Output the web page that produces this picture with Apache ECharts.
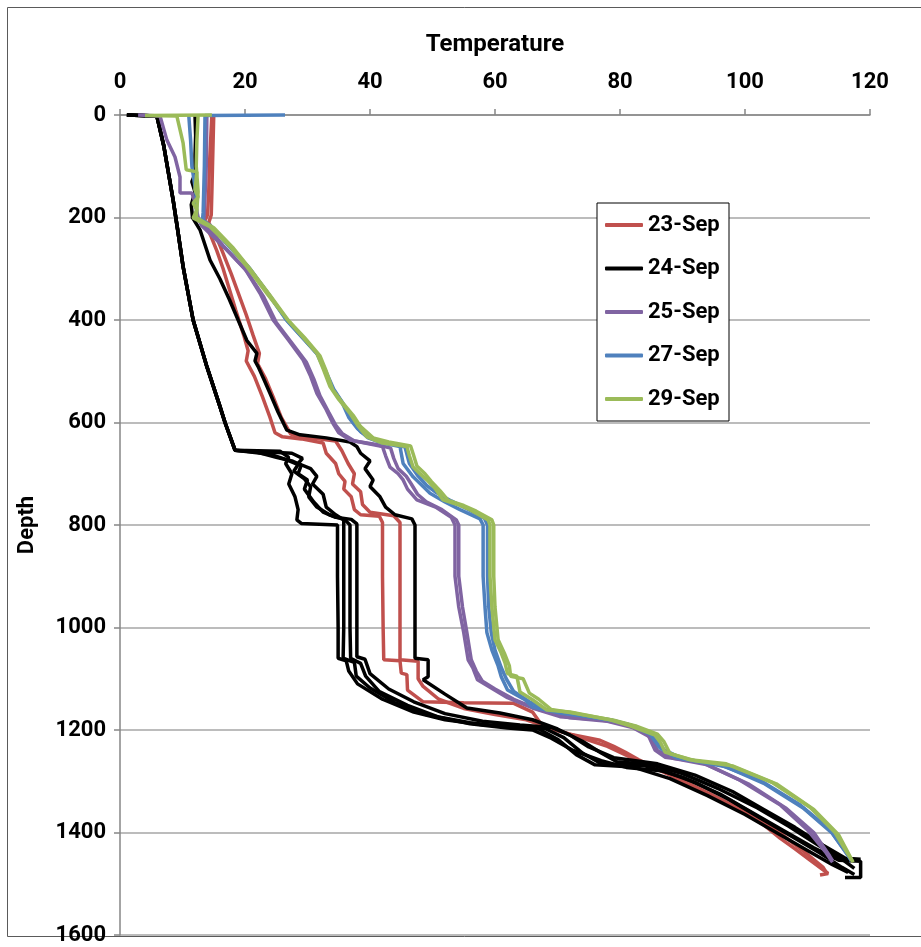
<!DOCTYPE html>
<html>
<head>
<meta charset="utf-8">
<script src="https://cdn.jsdelivr.net/npm/echarts@6/dist/echarts.min.js"></script>
<style>
  html, body { margin: 0; padding: 0; background: #fff; }
  #chart { width: 921px; height: 947px; }
</style>
</head>
<body>
<div id="chart"></div>
<script>
// Temperature (x) vs Depth (y) profiles, [temperature, depth]
const dates = ['23-Sep', '24-Sep', '25-Sep', '27-Sep', '29-Sep'];
const tempTicks = [0, 20, 40, 60, 80, 100, 120];
const depthTicks = [0, 200, 400, 600, 800, 1000, 1200, 1400, 1600];

const sep23a = [[14.7, 0], [14.5, 50], [14.3, 100], [14.2, 150], [14, 195], [13.5, 208], [14.5, 235], [15.5, 265], [16.5, 300], [17.5, 340], [18.5, 380], [19.8, 430], [20.5, 460], [20.2, 480], [21.5, 510], [22.8, 550], [24, 590], [24.8, 620], [26, 628], [29, 632], [32.5, 640], [33, 660], [34.5, 680], [35, 700], [36, 715], [35.8, 730], [37, 745], [37.5, 770], [38.5, 780], [41.5, 783], [42, 795], [42, 900], [42.1, 1000], [42.2, 1063], [44.8, 1065], [45, 1089], [45.9, 1092], [46, 1122], [48.5, 1145], [55, 1147], [63, 1148], [66, 1165], [67.7, 1194], [72, 1208], [76.8, 1220], [79, 1232], [80.8, 1243], [83, 1258], [86.4, 1278], [92.8, 1317], [99.2, 1356], [103, 1385], [105.6, 1411], [108, 1432], [110.4, 1454], [113.3, 1480], [112, 1483]];
const sep23b = [[15, 0], [14.9, 50], [14.8, 100], [14.7, 150], [14.6, 195], [14.2, 210], [15.5, 240], [16.5, 270], [17.8, 310], [19, 350], [20.2, 390], [21.3, 430], [22.3, 465], [22, 485], [23.3, 515], [24.5, 550], [25.8, 590], [27.3, 622], [28.5, 628], [32, 632], [34.5, 636], [35.5, 655], [36.5, 680], [37.5, 700], [37.2, 720], [38.5, 735], [38.8, 760], [40, 775], [43.8, 782], [44.8, 795], [44.8, 900], [44.8, 1000], [44.8, 1063], [47.7, 1066], [47.7, 1100], [48.5, 1115], [51, 1140], [55, 1158], [60, 1170], [65, 1180], [68.5, 1195], [73, 1212], [78, 1232], [82, 1255], [85, 1272], [88.5, 1290], [94.5, 1325], [100.5, 1362], [105.5, 1400], [109.5, 1438], [112.5, 1468], [113, 1478]];

const sep24b = [[12, 0], [12.1, 40], [12, 80], [12, 115], [11.5, 130], [12, 150], [11.4, 175], [11.6, 200], [12.8, 224], [14.4, 283], [16, 320], [17.5, 360], [18.9, 400], [20.3, 440], [21.9, 465], [21.6, 480], [22.1, 491], [23, 515], [24, 543], [25.3, 580], [26.7, 615], [28.8, 624], [33, 630], [36.8, 638], [37.9, 647], [38.5, 660], [40, 675], [39.2, 690], [40.5, 712], [40, 725], [41.6, 745], [42.5, 765], [44, 780], [46.7, 788], [47.2, 800], [47.2, 900], [47.2, 1000], [47.2, 1060], [49.3, 1063], [49.3, 1096], [48.5, 1102], [52, 1130], [55.5, 1157], [60.8, 1167], [66, 1180], [70, 1198], [74, 1222], [77, 1245], [79.5, 1262], [85, 1268], [90, 1285], [96, 1316], [102, 1352], [107, 1388], [112, 1427], [115.5, 1452], [117.5, 1470]];
const sep24top = [[1.1, 0], [5.9, 2], [7, 60], [8.5, 166], [9.3, 230], [10.1, 296], [11.7, 400], [13.9, 491], [16, 569], [16.8, 600], [18.4, 654]];
const sep24c1 = [[25.6, 656], [27, 668], [26.5, 680], [27.5, 700], [27, 720], [28, 745], [28.5, 770], [28.3, 790], [29, 797], [34.8, 800], [34.8, 900], [34.9, 1000], [34.9, 1060], [36.2, 1065], [36.6, 1085], [38, 1110], [42, 1140], [47, 1165], [52, 1180], [58, 1190], [64, 1193], [68, 1197], [71, 1215], [74, 1245], [77, 1266], [84, 1270], [90, 1292], [96, 1325], [101, 1360], [106, 1395], [111, 1430], [115, 1454], [118.5, 1456], [118.5, 1488], [116, 1488]];
const sep24c2 = [[27.5, 660], [29.2, 670], [28.5, 680], [30.5, 690], [31.5, 705], [30.8, 720], [32.5, 740], [33, 765], [34.5, 780], [35.8, 790], [35.8, 900], [35.8, 1000], [35.7, 1060], [37.5, 1068], [37.8, 1095], [40, 1118], [44, 1147], [49, 1170], [56, 1186], [62, 1194], [67, 1198], [70, 1218], [73, 1248], [76, 1268], [82, 1272], [88, 1295], [94, 1328], [100, 1365], [105, 1400], [110, 1435], [114, 1463], [116.5, 1478]];
const sep24c3 = [[24, 662], [26.5, 672], [28.5, 682], [27.8, 695], [29.5, 710], [30.5, 725], [30.2, 745], [31.5, 765], [33.5, 780], [36, 790], [36.8, 800], [36.8, 900], [36.8, 1000], [36.9, 1060], [38.5, 1070], [39.3, 1095], [41.5, 1125], [46, 1152], [51, 1175], [56, 1188], [62, 1196], [66, 1200], [69, 1216], [72.5, 1240], [77, 1260], [81, 1273], [87, 1280], [92, 1302], [97.5, 1336], [102.5, 1372], [107.5, 1408], [112, 1440], [115.5, 1468], [117.5, 1482]];
const sep24c4 = [[22, 658], [25, 668], [27.5, 675], [29, 683], [28.5, 700], [30, 712], [29.5, 730], [31, 755], [32.5, 775], [34.5, 785], [37, 789], [37.9, 798], [37.9, 900], [37.9, 1000], [37.9, 1057], [39.2, 1062], [40, 1090], [43, 1120], [47, 1145], [52, 1168], [58, 1183], [64, 1190], [69, 1195], [72, 1210], [75, 1233], [79, 1254], [86, 1266], [92, 1288], [98, 1320], [103, 1355], [108, 1390], [112.5, 1425], [116, 1450], [118.5, 1452]];

const sep25a = [[2.9, 0], [6.4, 2], [7.5, 49], [8.8, 82], [9.6, 121], [9.6, 152], [11.5, 152], [12, 170], [12.5, 200], [13, 215], [16, 250], [20, 300], [22.5, 350], [24.5, 400], [27, 440], [29.3, 478], [30.5, 510], [31.5, 543], [33, 575], [34, 600], [35, 620], [36.8, 634], [40, 642], [42, 647], [42.5, 665], [43.2, 687], [44.5, 700], [45.3, 712], [46, 730], [47.5, 751], [50.5, 765], [53, 785], [53.6, 800], [53.6, 900], [54.2, 960], [55, 1010], [55.7, 1063], [56.5, 1080], [57.2, 1102], [59, 1115], [62, 1137], [66, 1157], [70.4, 1174], [76.8, 1180], [81.6, 1190], [84.5, 1210], [85.6, 1239], [87.2, 1253], [92.8, 1262], [99.2, 1298], [105.6, 1346], [110, 1395], [113, 1440], [114, 1458]];
const sep25b = [[13.9, 0], [13.8, 100], [13.5, 190], [13.4, 210], [16.5, 255], [20.3, 305], [23, 355], [25, 405], [27.5, 445], [29.8, 482], [31, 515], [32, 548], [33.4, 580], [34.5, 605], [35.6, 622], [37.5, 636], [41, 643], [43.3, 650], [43.8, 670], [44.5, 690], [45.8, 705], [46.6, 720], [47.6, 740], [49, 755], [51.5, 770], [53.8, 790], [54.2, 800], [54.2, 900], [54.8, 960], [55.5, 1010], [56.2, 1063], [57, 1085], [58, 1105], [60, 1120], [63, 1140], [67, 1160], [72, 1176], [78, 1183], [82, 1195], [85, 1215], [86, 1240], [88.5, 1255], [94, 1268], [100.5, 1305], [106.5, 1352], [111, 1400], [113.5, 1445], [114, 1455]];

const sep27a = [[26.4, 0], [13.6, 1], [13.5, 100], [13.3, 190], [13.2, 205], [14.5, 216], [17, 250], [20.5, 296], [23.5, 345], [26.5, 398], [29, 432], [31.5, 465], [32.8, 500], [33.8, 530], [35.5, 560], [36.6, 590], [38, 612], [39.7, 630], [42, 640], [44.8, 647], [45.3, 680], [46.9, 706], [48.5, 725], [49.6, 738], [52, 755], [54.4, 770], [57.6, 788], [58.1, 800], [58.1, 900], [58.4, 960], [58.7, 1010], [59.5, 1044], [60.5, 1075], [61, 1096], [62, 1122], [64.8, 1141], [66, 1155], [70.4, 1167], [78.4, 1180], [81.6, 1190], [84.8, 1208], [86.4, 1235], [89, 1254], [96, 1268], [102.4, 1298], [108.8, 1346], [113.6, 1395], [116.8, 1450], [117, 1456]];
const sep27b = [[11, 0], [11.3, 50], [11.5, 100], [12, 140], [12.3, 170], [12.2, 200], [14.8, 220], [17.3, 254], [20.8, 300], [23.8, 350], [26.8, 402], [29.3, 436], [31.8, 470], [33.1, 505], [34.2, 535], [35.8, 565], [37, 595], [38.5, 618], [40.5, 633], [43.5, 642], [45.6, 648], [46.3, 680], [47.6, 703], [49, 722], [50.5, 736], [53, 753], [55.5, 768], [58.3, 787], [58.8, 800], [58.8, 900], [59, 960], [59.4, 1010], [60, 1044], [61, 1078], [61.8, 1100], [63, 1125], [65.5, 1145], [68, 1160], [73, 1170], [79, 1182], [82.5, 1193], [85.5, 1212], [87, 1238], [90, 1256], [97, 1272], [103, 1304], [109.3, 1352], [114, 1402], [116.5, 1445], [117, 1455]];

const sep29a = [[14.7, 0], [4, 1], [9.1, 2], [10.1, 55], [10.6, 107], [12.3, 111], [12, 146], [12.5, 160], [11.7, 172], [12.3, 185], [11.7, 201], [14.4, 218], [17.5, 255], [20.3, 296], [23.5, 348], [26.7, 398], [29, 430], [31.5, 465], [32.5, 495], [33.6, 530], [35, 555], [36.8, 582], [38, 605], [39.5, 628], [42, 640], [45.9, 647], [46.3, 665], [46.9, 687], [48, 700], [49.1, 712], [50.5, 730], [51.7, 751], [54, 760], [56, 770], [58.9, 790], [59.2, 800], [59.2, 900], [59.5, 960], [60, 1024], [61, 1050], [61.6, 1069], [62, 1090], [63.5, 1095], [64, 1126], [66, 1141], [68.3, 1161], [72, 1165], [78.4, 1180], [81.6, 1192], [85.6, 1210], [86.5, 1225], [87.2, 1243], [91.2, 1258], [97, 1266], [104.3, 1302], [110.4, 1351], [114.4, 1400], [117.1, 1455]];
const sep29b = [[12.5, 0], [12.3, 50], [12.2, 100], [12.5, 150], [12.2, 200], [15, 220], [18, 258], [20.8, 300], [24, 352], [27, 402], [29.5, 434], [32, 470], [33, 500], [34, 535], [35.5, 560], [37.3, 586], [38.5, 608], [40.5, 630], [43, 638], [46.5, 646], [47, 665], [47.5, 685], [48.8, 700], [49.8, 715], [51.2, 733], [52.5, 752], [55, 762], [57, 773], [59.5, 790], [59.8, 800], [59.8, 900], [60, 960], [60.5, 1024], [61.5, 1050], [62.3, 1075], [62.5, 1095], [64.5, 1100], [65.5, 1128], [67, 1140], [69, 1160], [73, 1168], [79, 1181], [82.5, 1192], [86, 1208], [87, 1222], [88, 1246], [92, 1260], [98, 1270], [105, 1305], [111, 1355], [115, 1405], [117.3, 1458]];

const profiles = {
    '23-Sep': [sep23a, sep23b],
    '24-Sep': [sep24b, sep24top.concat(sep24c1), sep24top.concat(sep24c2), sep24top.concat(sep24c3), sep24top.concat(sep24c4)],
    '25-Sep': [sep25a, sep25b],
    '27-Sep': [sep27a, sep27b],
    '29-Sep': [sep29a, sep29b]
};
const colors = { '23-Sep': '#C0504D', '24-Sep': '#000000', '25-Sep': '#8064A2', '27-Sep': '#4F81BD', '29-Sep': '#9BBB59' };

const FONT = 'Roboto, "Open Sans", sans-serif';
const label = { fontFamily: FONT, fontSize: 22, fontWeight: 'bold', color: '#000' };
const chart = echarts.init(document.getElementById('chart'));

const series = [];
dates.forEach(d => {
    profiles[d].forEach(p => {
        series.push({
            name: d, type: 'line', data: p,
            symbol: 'none', showSymbol: false, clip: false,
            lineStyle: { color: colors[d], width: 3.5 },
            itemStyle: { color: colors[d] },
            animation: false
        });
    });
});

chart.setOption({
    backgroundColor: '#fff',
    animation: false,
    textStyle: { fontFamily: FONT },
    graphic: [{
        type: 'rect', silent: true,
        shape: { x: 7.5, y: 7.5, width: 1000, height: 929 },
        style: { fill: 'none', stroke: '#5a5a5a', lineWidth: 1 }
    }],
    grid: { left: 120, top: 115, right: 51, bottom: 12 },
    legend: {
        data: dates, orient: 'vertical', left: 597, top: 203,
        padding: [10, 9, 10, 8], itemGap: 19.5, itemWidth: 38, itemHeight: 4,
        icon: 'roundRect',
        borderColor: '#000', borderWidth: 1, backgroundColor: '#fff',
        textStyle: Object.assign({}, label, { lineHeight: 24, width: 72 })
    },
    xAxis: {
        type: 'value', position: 'top', min: tempTicks[0], max: tempTicks[tempTicks.length - 1], interval: 20,
        name: 'Temperature', nameLocation: 'middle', nameGap: 58,
        nameTextStyle: Object.assign({}, label, { fontSize: 24 }),
        axisLine: { show: true, lineStyle: { color: '#868686', width: 1.5 } },
        axisTick: { show: true, length: 6, lineStyle: { color: '#868686', width: 1.5 } },
        axisLabel: Object.assign({}, label, { margin: 22 }),
        splitLine: { show: false }
    },
    yAxis: {
        type: 'value', inverse: true, min: depthTicks[0], max: depthTicks[depthTicks.length - 1], interval: 200,
        name: 'Depth', nameLocation: 'middle', nameGap: 82,
        nameTextStyle: label,
        axisLine: { show: true, lineStyle: { color: '#868686', width: 1.5 } },
        axisTick: { show: true, length: 6, lineStyle: { color: '#868686', width: 1.5 } },
        axisLabel: Object.assign({}, label, { margin: 14, formatter: v => String(v) }),
        splitLine: { show: true, lineStyle: { color: '#a6a6a6', width: 1.5 } }
    },
    series: series
});
</script>
</body>
</html>
